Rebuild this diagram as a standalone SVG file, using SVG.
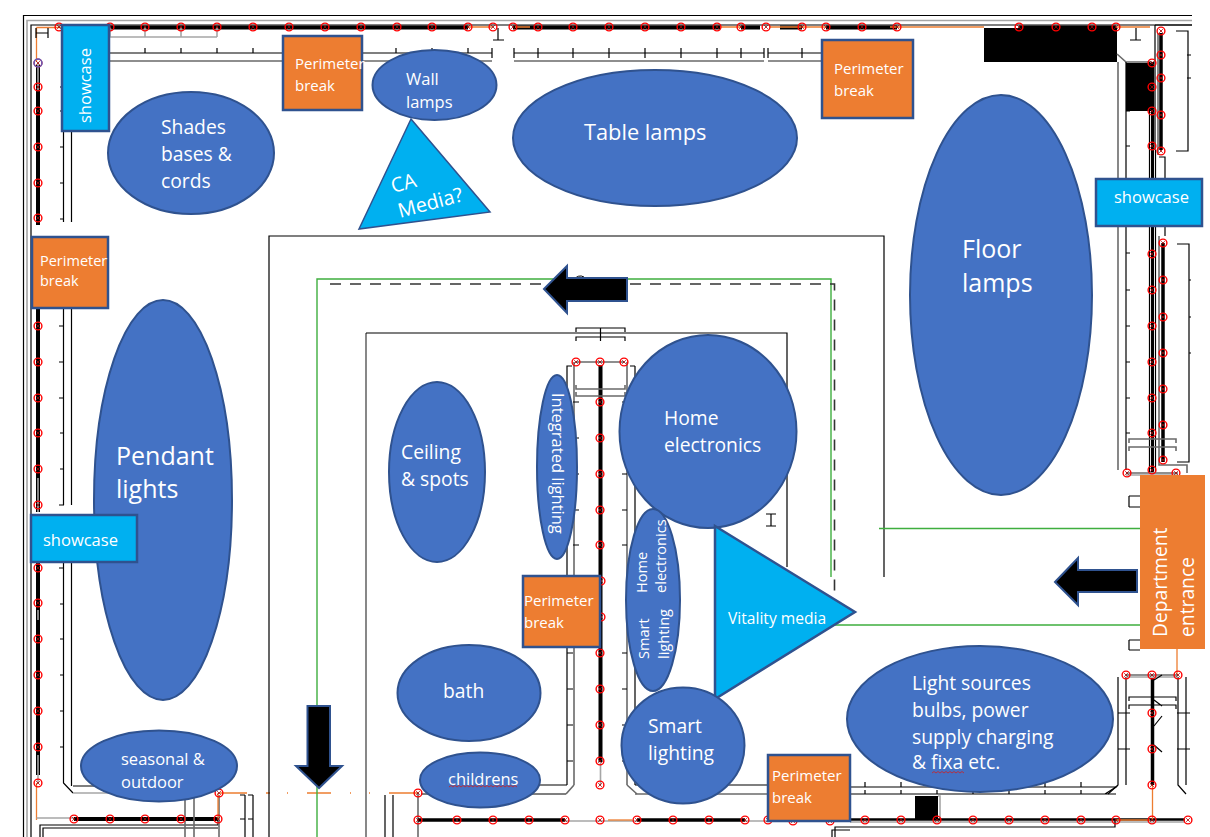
<svg xmlns="http://www.w3.org/2000/svg" width="1210" height="837" viewBox="0 0 1210 837">
<style>
.k{fill:none;stroke:#000;stroke-width:1.2}
.g{fill:none;stroke:#6a6a6a;stroke-width:1.6}
.l{fill:none;stroke:#a6a6a6;stroke-width:1.6}
.b{fill:none;stroke:#000;stroke-width:4}
.o{fill:none;stroke:#ed7d31;stroke-width:1.3}
.gr{fill:none;stroke:#3fae3f;stroke-width:1.4}
.e{fill:#4472c4;stroke:#2f528f;stroke-width:2}
.r{fill:#ed7d31;stroke:#2f528f;stroke-width:2.5}
.c{fill:#00b0f0;stroke:#2f528f;stroke-width:2.5}
.a{fill:#000;stroke:#2f528f;stroke-width:2}
text{font-family:"Open Sans","Noto Sans",sans-serif;fill:#fff;font-size:15px}
.t22{font-size:21.800px}.t19{font-size:19.300px}.t20{font-size:20px}.t16{font-size:16.500px}.t25{font-size:25px}.t14{font-size:14.600px}
</style>
<defs>
<g id="m"><circle r="3.900" fill="none" stroke="#f00" stroke-width="1.400"/><path d="M-1.800 -1.800L1.800 1.800M-1.800 1.800L1.800 -1.800" stroke="#a00000" stroke-width="0.800"/></g>
</defs>
<rect width="1210" height="837" fill="#fff"/>
<g id="plan">
<path class="k" d="M23.500 837V15.500H1192M31 837V25H1192"/>
<path class="l" d="M27 837V20.500H1192"/>
<path class="b" d="M110 27.500H468M513 27.500H720M741 27.500H760M780 27.500H802M826 27.500H897M1019 27.500H1116"/>
<path class="o" d="M36.500 27.500H62M36.500 27.500V62M468 27H492M515 27H530M720 27H741M770 27H825M890 27H984M1117 27H1150"/>
<path class="l" d="M110 37H217M110 27V37M145 27V37M181 27V37M217 27V37"/>
<path class="k" d="M109 53H492M514 53H764M768 53H822"/>
<path class="g" d="M109 61H492M514 61H764M768 61H822"/>
<path class="k" d="M145 48V53M181 48V53M217 48V53M253 48V53M396 48V53M432 48V53M468 48V53M492 48V58M514 48V58M538 48V58M573 48V58M609 48V58M645 48V58M681 48V58M717 48V58M741 48V58M764 48V58M768 48V58M802 48V58"/>
<path class="b" d="M38 65V225M38 308V512M38 562V775"/>
<path class="l" d="M38 63V90M38 478V512M38 610V620M38 755V783"/>
<path class="o" d="M36.500 783V820"/>
<path class="k" d="M63.500 61V222M63.500 308V505M71.500 61V222M71.500 308V505M63.500 562V783L73 793M71.500 562V786"/>
<path class="k" d="M60 87H64M60 111H64M60 147H64M60 183H64M60 219H64M59 326H64M59 362H64M59 398H64M60 433H64M60 469H64M59 505H64M59 568H64M60 604H64M60 639H64M60 675H64M60 711H64M60 747H64"/>
<path class="k" d="M73 786H110M110 786V790"/>
<path class="l" d="M73 793H110"/>
<path class="l" d="M36.500 818H218"/>
<path class="b" d="M74 819H218"/>
<path class="k" d="M40 837V825H218V820M43 837V828H218"/>
<path class="g" d="M185 795V837M194 795V837M219 795V837"/>
<path class="k" d="M245 795V837M253 795V837M240 795H245M248 795H253M240 819H245M248 819H253"/>
<path class="o" d="M218 793V820M220 793H247M266 793H270M287 793H288M307 793H331M350 793H351M369 793H370M389 793H418"/>
<path class="g" d="M418 793V837"/>
<path class="b" d="M418 820H565M637 820H745" style="stroke-width:3.500"/>
<path class="l" d="M565 821H637M745 821H768"/>
<path class="o" d="M608 820H632"/>
<path class="k" d="M385 795V837M393 795V837M421 785H567M421 794H566"/>
<path class="k" d="M269 837V236H884V577"/>
<path class="g" d="M366 837V333"/>
<path class="k" d="M366 333H787V567"/>
<path class="gr" d="M317 837V279H831V577"/>
<path d="M330 284H834.500V605" fill="none" stroke="#333" stroke-width="1.600" stroke-dasharray="11 9"/>
<path class="gr" d="M879 528.500H1140M835 625H1140"/>
<path d="M574 280A7 7 0 0 1 584 277" fill="none" stroke="#000"/>
<path class="b" d="M600.500 365V762"/>
<path class="l" d="M600.500 762V785"/>
<path class="k" d="M576 332V328H625V332M576 341V337H625V341M600.500 328V341"/>
<path class="g" d="M576 362H624M574 362V785M627 362V785"/>
<path class="k" d="M567 785V366H572M635 366H630M635 785V366"/>
<path class="g" d="M576 385V389H625V385M576 392V396H625V392"/>
<path class="k" d="M573 402H579M573 438H579M573 474H579M573 510H579M573 545H579M567 653H573M567 689H573M567 725H573M567 761H573M622 402H627M622 438H627M622 474H627M622 510H627M622 545H627M622 653H627M622 689H627M622 725H627M622 761H627"/>
<path class="g" d="M574 785L566 794M627 785L637 794"/>
<path class="g" d="M635 794H768"/>
<path class="k" d="M635 785H768"/>
<path class="k" d="M770 787H1116L1105 794M770 794H1116"/>
<path class="k" d="M865 782V787M901 782V787M937 782V787M973 782V787M1045 782V787M1081 782V787M865 790V794M901 790V794M937 790V794M973 790V794M1009 790V794M1045 790V794M1081 790V794"/>
<path class="k" d="M1118 677V785L1108 794M1126 677V785M1178 677V785L1186 794M1186 677V785M1130 713H1118M1130 749H1118M1177 713H1190M1177 749H1190"/>
<rect x="915" y="796" width="23" height="23" fill="#000"/>
<path class="l" d="M938 796H940V819"/>
<path class="b" d="M850 819.500H1185" style="stroke-width:2.500"/>
<path class="l" d="M850 822H1185"/>
<path class="k" d="M835 837V827H1115V820M832 837V830H850"/>
<path class="o" d="M1116 820H1150M1152.500 785V820M1177 649V675"/>
<path class="b" d="M1152.500 678V785" style="stroke-width:3.500"/>
<path class="g" d="M1126 675H1178"/>
<path class="l" d="M1126 677H1178"/>
<path class="k" d="M1129 701V697H1176V701M1129 709V705H1176V709M1154 680L1162 675M1154 700L1162 706M1154 726L1162 716M1154 745L1162 752"/>
<path class="k" d="M1129 640V650M1129 640H1140M1129 650H1140M1129 496H1140M1129 507H1140M1129 496V507"/>
<rect x="984" y="28" width="133" height="34" fill="#000"/>
<rect x="1126" y="63" width="26" height="48" fill="#000"/>
<path class="g" d="M1117 54L1126 62H1152"/>
<path class="g" d="M1118 62V470"/>
<path class="k" d="M1126 62V470M1155 25H1192M1155 25V150"/>
<path class="k" d="M1126 87H1130M1126 111H1130M1126 146H1130M1126 253H1130M1126 290H1130M1126 326H1130M1126 362H1130M1126 398H1130M1126 433H1130"/>
<path class="b" d="M1152.500 62V472" style="stroke-width:3"/>
<path class="k" d="M1149.500 62V472M1155.500 150V472"/>
<path class="b" d="M1161 33V150M1163 243V462" style="stroke-width:3.500"/>
<path class="g" d="M1158 33V155M1159 236V465H1187V473"/>
<path class="k" d="M1159 157H1165V236"/>
<path class="g" d="M1126 473H1178"/>
<path class="l" d="M1126 475H1178"/>
<path class="k" d="M1176 31H1188V151H1176M1177 244H1189V462H1177M1189 280H1191M1189 317H1191M1189 353H1191M1187 55H1191M1187 78H1191"/>
<path class="g" d="M1129 443V439H1176V443M1129 451V447H1176V451"/>
<path class="k" d="M36 28V38M48 28V38M36 33H48"/>
<path class="k" d="M498 28V40M493 40H504M1136 28V40M1130 40H1141M771 514V526M766 514H776M766 526H776"/>
</g>
<g id="fixtures">
<use href="#m" x="38" y="63"/><circle cx="38" cy="63" r="4" fill="none" stroke="#6060c0" stroke-width="1.500"/>
<use href="#m" x="38" y="87"/><use href="#m" x="38" y="111"/><use href="#m" x="38" y="147"/><use href="#m" x="38" y="183"/><use href="#m" x="38" y="218"/><use href="#m" x="38" y="326"/><use href="#m" x="38" y="362"/><use href="#m" x="38" y="398"/><use href="#m" x="38" y="433"/><use href="#m" x="38" y="469"/><use href="#m" x="38" y="505"/><use href="#m" x="38" y="568"/><use href="#m" x="38" y="603"/><use href="#m" x="38" y="639"/><use href="#m" x="38" y="675"/><use href="#m" x="38" y="711"/><use href="#m" x="38" y="747"/><use href="#m" x="38" y="783"/>
<use href="#m" x="59" y="27"/><use href="#m" x="110" y="27"/><use href="#m" x="145" y="27"/><use href="#m" x="181" y="27"/><use href="#m" x="217" y="27"/><use href="#m" x="253" y="27"/><use href="#m" x="289" y="27"/><use href="#m" x="325" y="27"/><use href="#m" x="361" y="27"/><use href="#m" x="397" y="27"/><use href="#m" x="432" y="27"/><use href="#m" x="468" y="27"/><use href="#m" x="493" y="27"/><use href="#m" x="513" y="27"/><use href="#m" x="538" y="27"/><use href="#m" x="573" y="27"/><use href="#m" x="609" y="27"/><use href="#m" x="645" y="27"/><use href="#m" x="681" y="27"/><use href="#m" x="717" y="27"/><use href="#m" x="741" y="27"/><use href="#m" x="766" y="27"/><use href="#m" x="802" y="27"/><use href="#m" x="826" y="27"/><use href="#m" x="862" y="27"/><use href="#m" x="897" y="27"/><use href="#m" x="1019" y="27"/><use href="#m" x="1056" y="27"/><use href="#m" x="1092" y="27"/><use href="#m" x="1116" y="27"/>
<use href="#m" x="74" y="819"/><use href="#m" x="110" y="819"/><use href="#m" x="145" y="819"/><use href="#m" x="181" y="819"/><use href="#m" x="218" y="819"/><use href="#m" x="219" y="793"/><use href="#m" x="418" y="793"/><use href="#m" x="418" y="820"/><use href="#m" x="457" y="820"/><use href="#m" x="493" y="820"/><use href="#m" x="529" y="820"/><use href="#m" x="565" y="820"/><use href="#m" x="600" y="820"/><use href="#m" x="637" y="820"/><use href="#m" x="673" y="820"/><use href="#m" x="709" y="820"/><use href="#m" x="745" y="820"/><use href="#m" x="768" y="820"/><use href="#m" x="793" y="821"/><use href="#m" x="830" y="821"/><use href="#m" x="865" y="820"/><use href="#m" x="901" y="820"/><use href="#m" x="937" y="820"/><use href="#m" x="973" y="820"/><use href="#m" x="1009" y="820"/><use href="#m" x="1045" y="820"/><use href="#m" x="1081" y="820"/><use href="#m" x="1116" y="820"/><use href="#m" x="1152" y="820"/><use href="#m" x="1188" y="820"/>
<use href="#m" x="576" y="362"/><use href="#m" x="600" y="362"/><use href="#m" x="624" y="362"/><use href="#m" x="600" y="402"/><use href="#m" x="600" y="438"/><use href="#m" x="600" y="474"/><use href="#m" x="600" y="510"/><use href="#m" x="600" y="545"/><use href="#m" x="601" y="581"/><use href="#m" x="601" y="617"/><use href="#m" x="600" y="653"/><use href="#m" x="600" y="689"/><use href="#m" x="600" y="725"/><use href="#m" x="600" y="761"/><use href="#m" x="600" y="785"/>
<use href="#m" x="1152" y="63"/><use href="#m" x="1152" y="87"/><use href="#m" x="1152" y="111"/><use href="#m" x="1152" y="146"/><use href="#m" x="1152" y="254"/><use href="#m" x="1152" y="290"/><use href="#m" x="1152" y="326"/><use href="#m" x="1152" y="362"/><use href="#m" x="1152" y="398"/><use href="#m" x="1152" y="433"/><use href="#m" x="1152" y="470"/>
<use href="#m" x="1161" y="31"/><use href="#m" x="1161" y="55"/><use href="#m" x="1161" y="78"/><use href="#m" x="1161" y="115"/><use href="#m" x="1161" y="151"/><use href="#m" x="1163" y="243"/><use href="#m" x="1163" y="280"/><use href="#m" x="1163" y="317"/><use href="#m" x="1163" y="353"/><use href="#m" x="1163" y="389"/><use href="#m" x="1163" y="425"/><use href="#m" x="1163" y="460"/>
<use href="#m" x="1127" y="473"/><use href="#m" x="1176" y="473"/><use href="#m" x="1126" y="675"/><use href="#m" x="1152" y="675"/><use href="#m" x="1178" y="675"/><use href="#m" x="1152" y="713"/><use href="#m" x="1152" y="749"/><use href="#m" x="1152" y="785"/>
</g>
<g id="showcase-top"><rect class="c" x="62" y="25" width="47" height="106"/><text transform="translate(91 123) rotate(-90)" class="t16">showcase</text></g>
<g id="shades"><ellipse class="e" cx="191" cy="153" rx="83" ry="61"/><text class="t19" x="161" y="134">Shades</text><text class="t19" x="161" y="161">bases &amp;</text><text class="t19" x="161" y="188">cords</text></g>
<g id="break-1"><rect class="r" x="283" y="36" width="79" height="74"/><text x="295" y="69">Perimeter</text><text x="295" y="91">break</text></g>
<g id="wall-lamps"><ellipse class="e" cx="434.500" cy="85" rx="62" ry="35"/><text class="t16" x="406" y="85">Wall</text><text class="t16" x="406" y="108">lamps</text></g>
<g id="ca-media"><polygon class="c" points="411,119 490,212 359,229" style="stroke-width:1.500"/><text class="t20" transform="translate(393 193) rotate(-15)">CA</text><text class="t20" transform="translate(400 218) rotate(-15)">Media?</text></g>
<g id="table-lamps"><ellipse class="e" cx="655" cy="138" rx="142" ry="68"/><text class="t22" x="584" y="140">Table lamps</text></g>
<g id="break-2"><rect class="r" x="822" y="40" width="91" height="78"/><text x="834" y="74">Perimeter</text><text x="834" y="96">break</text></g>
<g id="floor-lamps"><ellipse class="e" cx="1001" cy="295" rx="91" ry="200"/><text class="t25" x="962" y="258">Floor</text><text class="t25" x="962" y="292">lamps</text></g>
<g id="showcase-right"><rect class="c" x="1096" y="179" width="106" height="47"/><text class="t16" x="1114" y="203">showcase</text></g>
<g id="break-3"><rect class="r" x="32" y="237" width="76" height="71"/><text style="font-size:14.500px" x="40" y="266">Perimeter</text><text style="font-size:14.500px" x="40" y="286">break</text></g>
<g id="pendant"><ellipse class="e" cx="163" cy="500" rx="69" ry="200"/><text class="t25" x="116" y="465">Pendant</text><text class="t25" x="116" y="498">lights</text></g>
<g id="showcase-left"><rect class="c" x="31" y="515" width="106" height="47"/><text class="t16" x="43" y="546">showcase</text></g>
<g id="ceiling"><ellipse class="e" cx="437" cy="472" rx="48" ry="90"/><text class="t19" x="401" y="459">Ceiling</text><text class="t19" x="401" y="486">&amp; spots</text></g>
<g id="integrated"><ellipse class="e" cx="557" cy="467" rx="20" ry="92"/><text class="t16" transform="translate(552 393) rotate(90)">Integrated lighting</text></g>
<g id="home"><ellipse class="e" cx="708" cy="431.500" rx="88.500" ry="96.500"/><text class="t19" x="664" y="425">Home</text><text class="t19" x="664" y="452">electronics</text></g>
<g id="home-smart"><ellipse class="e" cx="653" cy="600" rx="27" ry="91"/><text class="t14" transform="translate(647 593) rotate(-90)">Home</text><text class="t14" transform="translate(666 593) rotate(-90)">electronics</text><text class="t14" transform="translate(649 659) rotate(-90)">Smart</text><text class="t14" transform="translate(669 659) rotate(-90)">lighting</text></g>
<g id="break-4"><rect class="r" x="523" y="576" width="77" height="71"/><text x="524" y="606">Perimeter</text><text x="524" y="628">break</text></g>
<g id="vitality"><polygon class="c" points="715,526 855,612 715,699"/><text style="font-size:15.600px" x="728" y="624">Vitality media</text></g>
<g id="bath"><ellipse class="e" cx="469" cy="693" rx="71.500" ry="48"/><text class="t19" x="443" y="698">bath</text></g>
<g id="childrens"><ellipse class="e" cx="480" cy="780" rx="60" ry="27.500"/><text class="t16" x="448" y="785">childrens</text><path d="M449 787l2 -1.500 2 1.500 2 -1.500 2 1.500 2 -1.500 2 1.500 2 -1.500 2 1.500 2 -1.500 2 1.500 2 -1.500 2 1.500 2 -1.500 2 1.500 2 -1.500 2 1.500 2 -1.500 2 1.500 2 -1.500 2 1.500 2 -1.500 2 1.500 2 -1.500 2 1.500 2 -1.500 2 1.500 2 -1.500 2 1.500 2 -1.500 2 1.500 2 -1.500 2 1.500 2 -1.500 2 1.500" fill="none" stroke="#d02020" stroke-width="0.800"/></g>
<g id="smart-lighting"><ellipse class="e" cx="683" cy="745.500" rx="61.500" ry="58"/><text class="t19" x="648" y="733">Smart</text><text class="t19" x="648" y="760">lighting</text></g>
<g id="break-5"><rect class="r" x="768" y="755" width="82" height="66"/><text x="772" y="781">Perimeter</text><text x="772" y="803">break</text></g>
<g id="light-sources"><ellipse class="e" cx="980" cy="719" rx="133" ry="73"/><text class="t19" x="912" y="690">Light sources</text><text class="t19" x="912" y="717">bulbs, power</text><text class="t19" x="912" y="744">supply charging</text><text class="t19" x="912" y="769">&amp; fixa etc.</text><path d="M932 773l2 -1.500 2 1.500 2 -1.500 2 1.500 2 -1.500 2 1.500 2 -1.500 2 1.500 2 -1.500 2 1.500 2 -1.500 2 1.500 2 -1.500 2 1.500 2 -1.500 2 1.500" fill="none" stroke="#d02020" stroke-width="0.800"/></g>
<g id="seasonal"><ellipse class="e" cx="159" cy="766" rx="78" ry="35.500"/><text class="t16" x="121" y="765">seasonal &amp;</text><text class="t16" x="121" y="788">outdoor</text></g>
<g id="department"><rect x="1140" y="475" width="65" height="174" fill="#ed7d31"/><text class="t19" transform="translate(1167 637) rotate(-90)">Department</text><text class="t19" transform="translate(1194 637) rotate(-90)">entrance</text></g>
<g id="arrows">
<polygon class="a" points="544,289 567,266 567,278 627,278 627,301 567,301 567,313"/>
<polygon class="a" points="319,788 296,766 307.500,766 307.500,706 330,706 330,766 342,766"/>
<polygon class="a" points="1055,582 1078,558 1078,570 1137,570 1137,592 1078,592 1078,605"/>
</g>
</svg>
